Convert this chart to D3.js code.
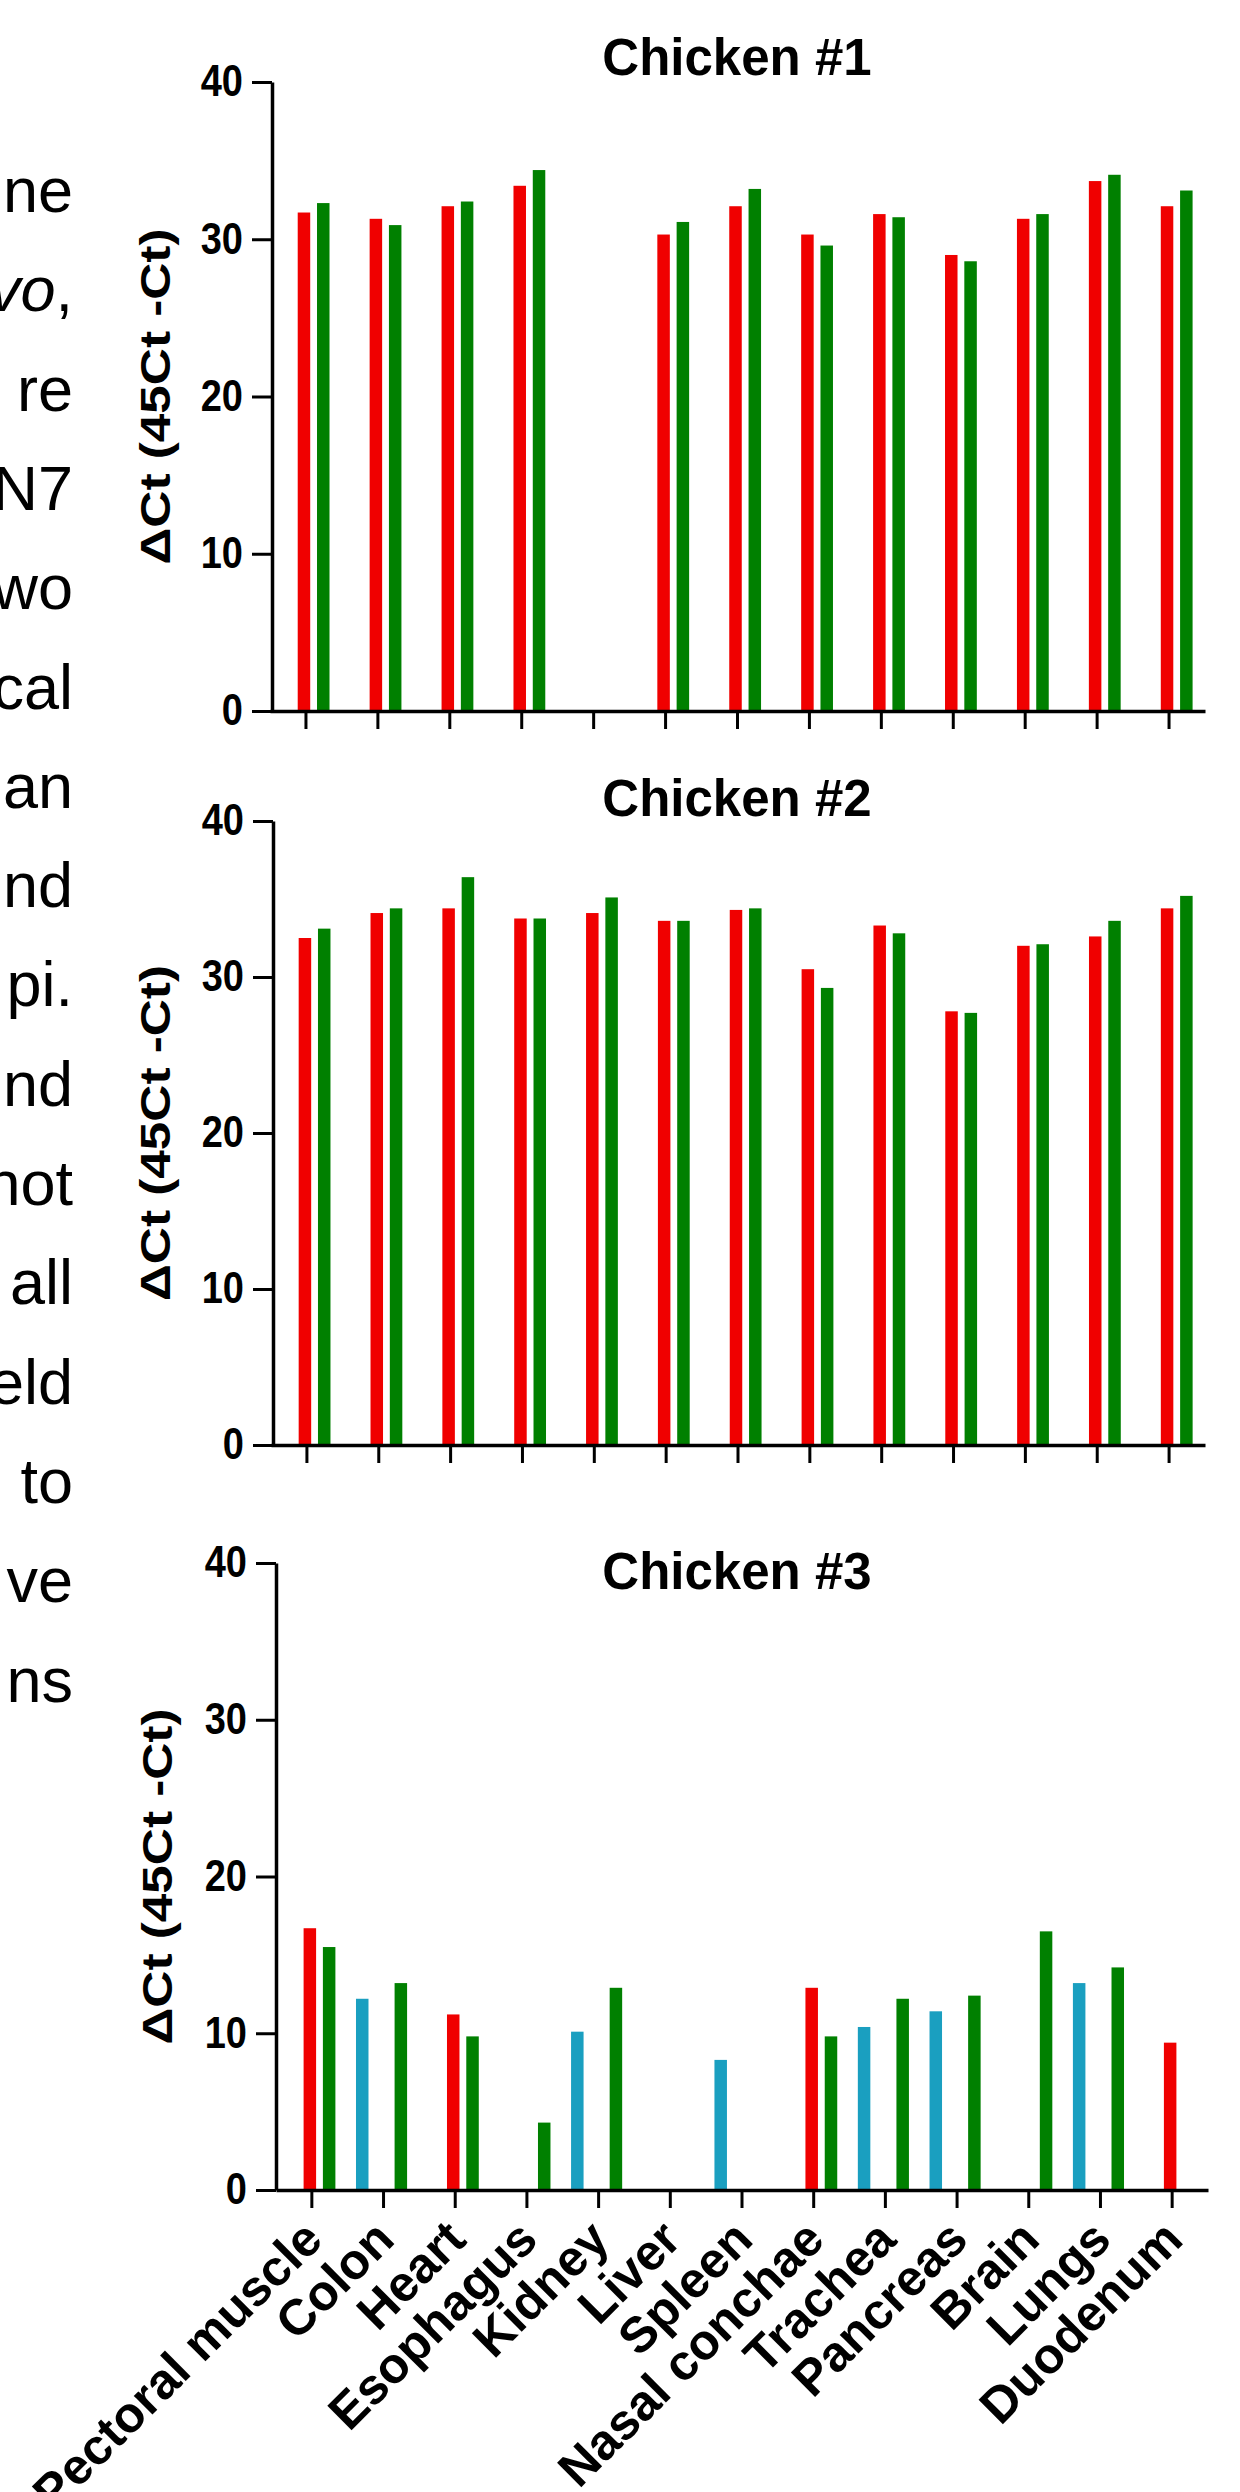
<!DOCTYPE html>
<html><head><meta charset="utf-8">
<script src="https://cdn.jsdelivr.net/npm/d3@7"></script>
<style>html,body{margin:0;padding:0;background:#fff;} svg{display:block;}</style>
</head><body>
<svg id="fig" width="1240" height="2492"></svg>
<script>
// ---------- data ----------
const categories = ["Pectoral muscle","Colon","Heart","Esophagus","Kidney","Liver","Spleen","Nasal conchae","Trachea","Pancreas","Brain","Lungs","Duodenum"];
const chicken1Red   = [31.7, 31.3, 32.1, 33.4, null, 30.3, 32.1, 30.3, 31.6, 29.0, 31.3, 33.7, 32.1];
const chicken1Green = [32.3, 30.9, 32.4, 34.4, null, 31.1, 33.2, 29.6, 31.4, 28.6, 31.6, 34.1, 33.1];
const chicken2Red   = [32.5, 34.1, 34.4, 33.75, 34.1, 33.6, 34.3, 30.5, 33.3, 27.8, 32.0, 32.6, 34.4];
const chicken2Green = [33.1, 34.4, 36.4, 33.75, 35.1, 33.6, 34.4, 29.3, 32.8, 27.7, 32.1, 33.6, 35.2];
const chicken3Red   = [16.7, null, 11.2, null, null, null, null, 12.9, null, null, null, null, 9.4];
const chicken3Cyan  = [null, 12.2, null, null, 10.1, null, 8.3, null, 10.4, 11.4, null, 13.2, null];
const chicken3Green = [15.5, 13.2, 9.8, 4.3, 12.9, null, null, 9.8, 12.2, 12.4, 16.5, 14.2, null];
const yTicks = [0, 10, 20, 30, 40];
const panelTitles = ["Chicken #1", "Chicken #2", "Chicken #3"];
const yTitle = "\u0394Ct (45Ct -Ct)";
const textFragments = ["ne","vo,","re","N7","wo","cal","an","nd","pi.","nd","not","all","eld","to","ve","ns"];
const italicFragments = ["vo"];

// ---------- styling / layout ----------
const FONT = "'Liberation Sans', Arial, Helvetica, sans-serif";
const slots = ["cyan", "red", "green"];
const colors = {cyan: "#1a9fc0", red: "#f00000", green: "#008000"};
const svg = d3.select("#fig");
svg.append("rect").attr("width", 1240).attr("height", 2492).attr("fill", "#fff");

// left clipped paragraph text
const tg = svg.append("g").attr("font-family", FONT).attr("font-size", 63).attr("text-anchor", "end").attr("fill", "#000");
textFragments.forEach((f, i) => {
  const t = tg.append("text").attr("x", 73).attr("y", 212 + 99.3 * i);
  const it = italicFragments.find(s => f.startsWith(s));
  if (it) {
    t.append("tspan").attr("font-style", "italic").text(it);
    t.append("tspan").text(f.slice(it.length));
  } else t.text(f);
});

const panels = [
  {title: panelTitles[0], series: [{key: "red", values: chicken1Red}, {key: "green", values: chicken1Green}],
   axisX: 272, y0: 711, y40: 82, xr: [270, 1205], titleY: 75, yTitleX: 170, labels: false},
  {title: panelTitles[1], series: [{key: "red", values: chicken2Red}, {key: "green", values: chicken2Green}],
   axisX: 273, y0: 1445, y40: 821, xr: [271, 1205], titleY: 816, yTitleX: 170, labels: false},
  {title: panelTitles[2], series: [{key: "red", values: chicken3Red}, {key: "cyan", values: chicken3Cyan}, {key: "green", values: chicken3Green}],
   axisX: 276, y0: 2190, y40: 1563, xr: [276, 1208], titleY: 1589, yTitleX: 172, labels: true}
];

const slotStep = 19.3, barW = 12.5;
const pin = 1 - barW / slotStep;
const groupW = slotStep * (slots.length - pin);

panels.forEach(p => {
  const g = svg.append("g").attr("font-family", FONT);
  const x0 = d3.scaleBand().domain(categories).range(p.xr).paddingInner(0).paddingOuter(0);
  const x1 = d3.scaleBand().domain(slots).range([0, groupW]).paddingInner(pin).paddingOuter(0);
  const y = d3.scaleLinear().domain([0, 40]).range([p.y0, p.y40]);
  const off = x0.bandwidth() / 2 - 2 - groupW / 2;

  p.series.forEach(s => {
    const pts = categories.map((c, i) => ({c, v: s.values[i]})).filter(d => d.v != null);
    g.append("g").selectAll("rect").data(pts).join("rect")
      .attr("x", d => x0(d.c) + off + x1(s.key))
      .attr("width", x1.bandwidth())
      .attr("y", d => y(d.v))
      .attr("height", d => y(0) - y(d.v))
      .attr("fill", colors[s.key]);
  });

  // y axis
  const gy = g.append("g").attr("transform", `translate(${p.axisX},0)`)
    .call(d3.axisLeft(y).tickValues(yTicks).tickSize(20).tickSizeOuter(0).tickPadding(9));
  gy.select(".domain").attr("stroke-width", 3.5).attr("stroke", "#000");
  gy.selectAll(".tick line").attr("stroke-width", 3).attr("stroke", "#000");
  gy.selectAll(".tick text").attr("font-size", 38).attr("font-weight", "bold").attr("font-family", FONT)
    .attr("fill", "#000").attr("transform", "scale(1,1.15)");

  // x axis
  const gx = g.append("g").attr("transform", `translate(0,${p.y0})`)
    .call(d3.axisBottom(x0).tickSize(18).tickSizeOuter(0).tickFormat(p.labels ? (d => d) : (() => "")));
  gx.select(".domain").attr("stroke-width", 3.5).attr("stroke", "#000");
  gx.selectAll(".tick line").attr("stroke-width", 3).attr("stroke", "#000");
  if (p.labels) {
    gx.selectAll(".tick text")
      .attr("x", 0).attr("y", 0).attr("dy", 0)
      .attr("transform", "translate(13,52) rotate(-45)")
      .attr("text-anchor", "end").attr("font-size", 50).attr("font-weight", "bold")
      .attr("font-family", FONT).attr("fill", "#000");
  }

  // y title
  g.append("text")
    .attr("transform", `translate(${p.yTitleX},${(p.y0 + p.y40) / 2}) rotate(-90)`)
    .attr("text-anchor", "middle").attr("font-weight", "bold").attr("font-size", 42)
    .attr("textLength", 336).attr("lengthAdjust", "spacingAndGlyphs")
    .attr("fill", "#000").text(yTitle);

  // panel title
  g.append("text").attr("x", 737).attr("y", p.titleY).attr("text-anchor", "middle")
    .attr("font-weight", "bold").attr("font-size", 51).attr("fill", "#000").text(p.title);
});
</script>
</body></html>
